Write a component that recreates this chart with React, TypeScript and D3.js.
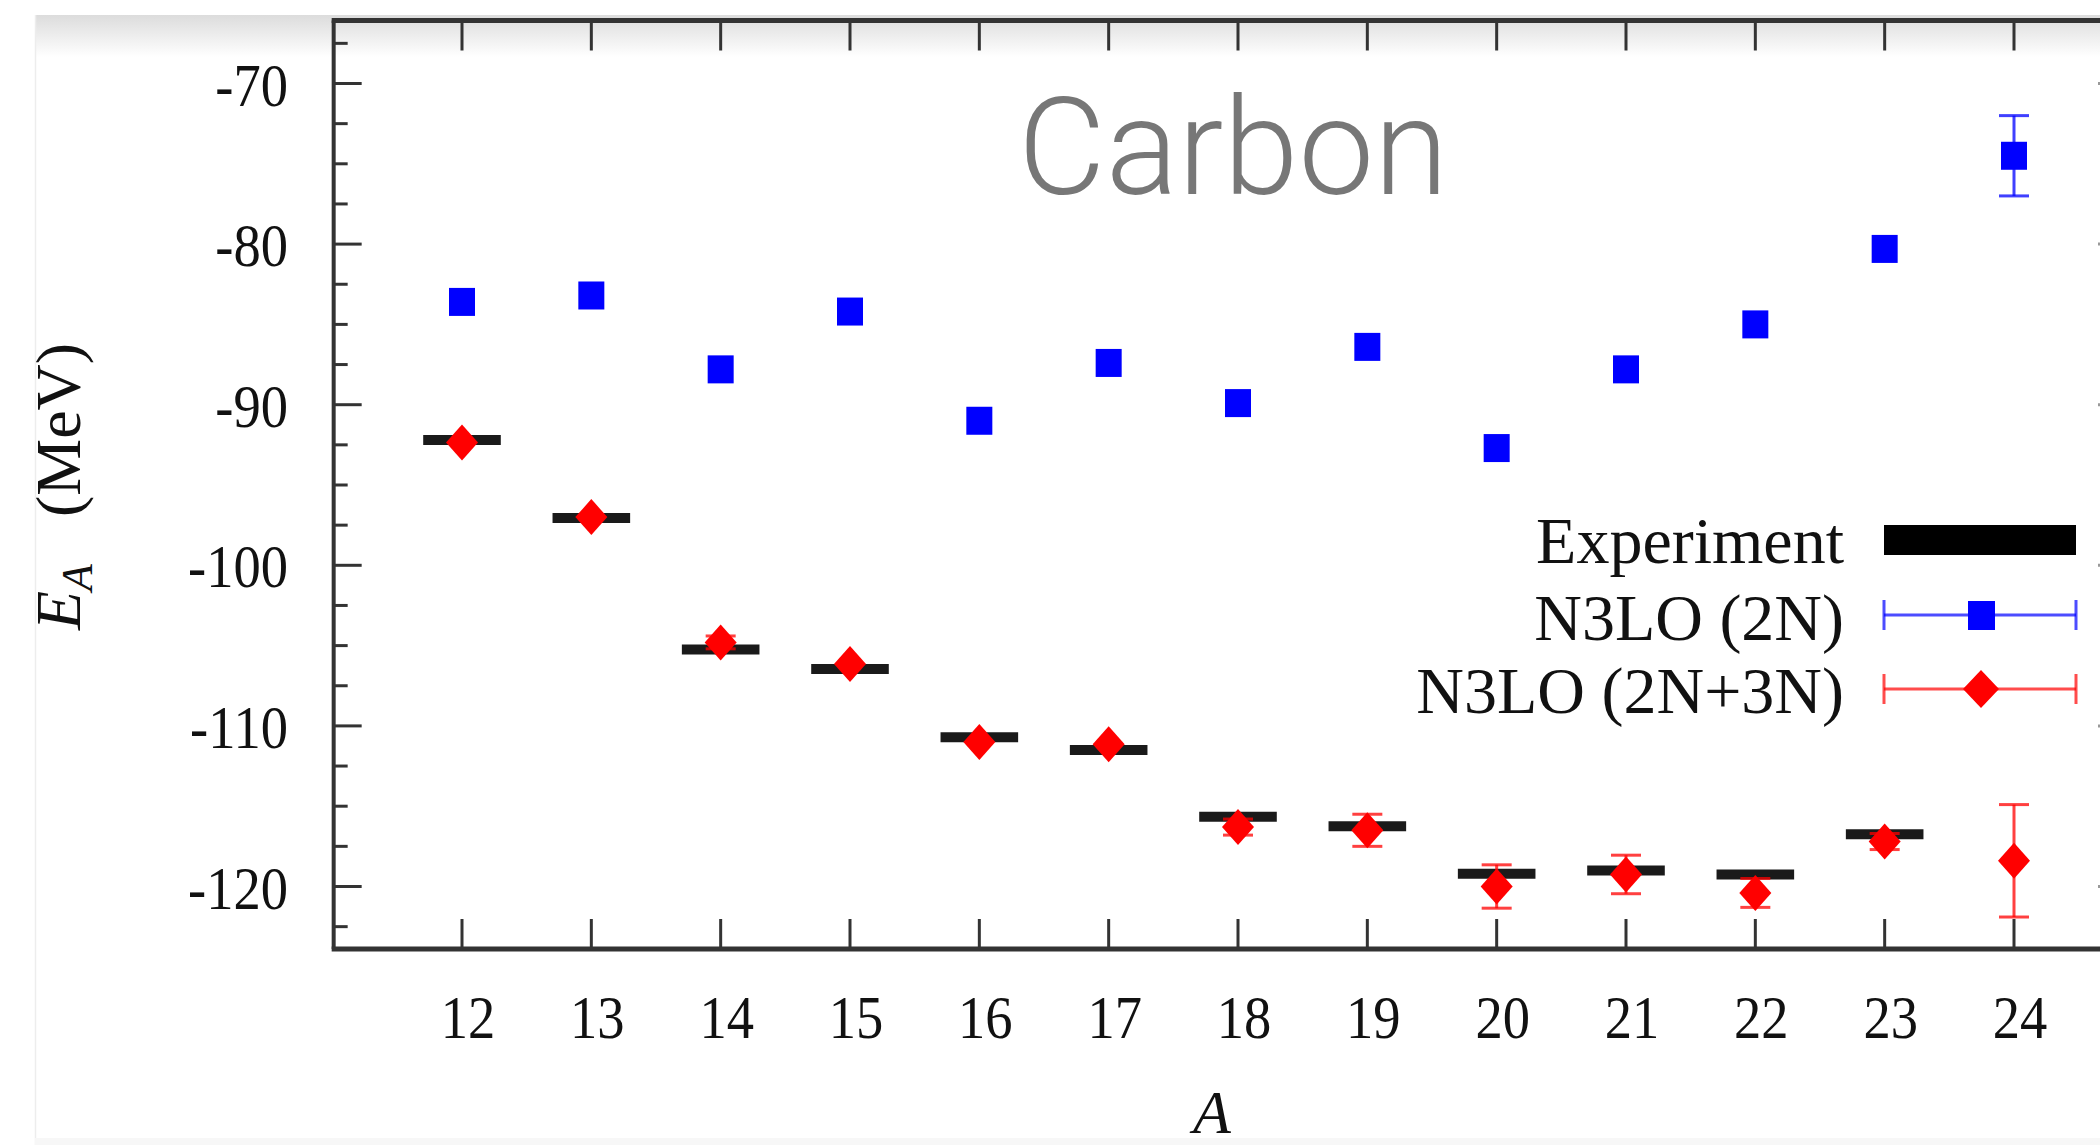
import React from "react";
import * as d3 from "d3";

// ---- data ----
const massNumbers = [12, 13, 14, 15, 16, 17, 18, 19, 20, 21, 22, 23, 24];
const experiment = [-92.2, -97.05, -105.25, -106.45, -110.7, -111.5, -115.65, -116.25, -119.2, -119.0, -119.25, -116.75, null];
const n3lo2N = [-83.6, -83.2, -87.8, -84.2, -91.0, -87.4, -89.9, -86.4, -92.7, -87.8, -85.0, -80.3, -74.5];
const n3lo2NErr = [0, 0, 0, 0, 0, 0, 0, 0, 0, 0, 0, 0, 2.5];
const n3lo2N3N = [-92.35, -97.0, -104.8, -106.15, -111.0, -111.15, -116.3, -116.5, -120.0, -119.25, -120.4, -117.2, -118.4];
const n3lo2N3NErr = [0, 0, 0.4, 0, 0, 0, 0.5, 1.0, 1.35, 1.2, 0.9, 0.5, 3.5];
const yMajorTicks = [-120, -110, -100, -90, -80, -70];
const legendLabels = ["Experiment", "N3LO (2N)", "N3LO (2N+3N)"];
const titleText = "Carbon";

const W = 2100;
const H = 1145;

export default function App() {
  const x = d3.scaleLinear().domain([12, 24]).range([462, 2014]);
  const y = d3.scaleLinear().domain([-120, -70]).range([886.5, 83.5]);
  const left = x(11) + 1;
  const right = 2126;
  const top = 20.5;
  const bottom = 949;
  const yMinor = d3.range(-122.5, -66, 2.5).filter((v) => !yMajorTicks.includes(v));
  const axisColor = "#333";
  const serif = "'Liberation Serif', 'DejaVu Serif', serif";
  const blue = "#0000ff";
  const red = "#ff0000";
  const capW = 15;
  const sx = 0.88;

  const diamond = (cx: number, cy: number, hw = 16, hh = 18) =>
    `M${cx},${cy - hh}L${cx + hw},${cy}L${cx},${cy + hh}L${cx - hw},${cy}Z`;

  return (
    <svg width={W} height={H} style={{ position: "absolute", left: 0, top: 0, background: "#fff" }}>
      <defs>
        <linearGradient id="topShade" x1="0" y1="0" x2="0" y2="1">
          <stop offset="0" stopColor="#dcdcdc" />
          <stop offset="1" stopColor="#ffffff" />
        </linearGradient>
      </defs>
      <rect x={0} y={0} width={W} height={H} fill="#fff" />
      <rect x={35} y={15} width={W - 35} height={42} fill="url(#topShade)" />
      <line x1={35.5} y1={15} x2={35.5} y2={H} stroke="#ededed" strokeWidth={1.5} />
      <rect x={35} y={1138} width={W - 35} height={7} fill="#f7f7f7" />

      {/* title */}
      <text x={1018} y={194} fontFamily="Roboto, 'Liberation Sans', sans-serif" fontWeight={300} fontSize={135} fill="#777">
        {titleText}
      </text>

      {/* y ticks (left and right) */}
      {yMajorTicks.map((v) => (
        <g key={"ym" + v}>
          <line x1={left} x2={left + 28} y1={y(v)} y2={y(v)} stroke={axisColor} strokeWidth={3} />
          <line x1={right} x2={right - 28} y1={y(v)} y2={y(v)} stroke="#999" strokeWidth={3} />
          <g transform={`translate(288,${y(v) + 22})`}>
            <text transform={`scale(${sx},1)`} textAnchor="end" fontFamily={serif} fontSize={62} fill="#111">
              {v}
            </text>
          </g>
        </g>
      ))}
      {yMinor.map((v) => (
        <g key={"yn" + v}>
          <line x1={left} x2={left + 14} y1={y(v)} y2={y(v)} stroke={axisColor} strokeWidth={3} />
          <line x1={right} x2={right - 14} y1={y(v)} y2={y(v)} stroke="#999" strokeWidth={3} />
        </g>
      ))}

      {/* x ticks (bottom and top) */}
      {massNumbers.map((a) => (
        <g key={"xt" + a}>
          <line x1={x(a)} x2={x(a)} y1={bottom} y2={bottom - 30} stroke={axisColor} strokeWidth={3} />
          <line x1={x(a)} x2={x(a)} y1={top} y2={top + 30} stroke={axisColor} strokeWidth={3} />
          <g transform={`translate(${x(a) + 6},1038)`}>
            <text transform={`scale(${sx},1)`} textAnchor="middle" fontFamily={serif} fontSize={62} fill="#111">
              {a}
            </text>
          </g>
        </g>
      ))}

      {/* frame */}
      <line x1={left} x2={left} y1={top} y2={bottom} stroke={axisColor} strokeWidth={4} />
      <line x1={left - 2} x2={W} y1={top} y2={top} stroke={axisColor} strokeWidth={5} />
      <line x1={left - 2} x2={W} y1={bottom} y2={bottom} stroke={axisColor} strokeWidth={5} />

      {/* axis labels */}
      <g transform={`translate(80,630) rotate(-90)`}>
        <text x={0} y={0} fontFamily={serif} fontSize={64} fill="#111">
          <tspan fontStyle="italic">E</tspan>
          <tspan fontStyle="italic" fontSize={44} dy={12}>A</tspan>
          <tspan x={113} dy={-12}>(MeV)</tspan>
        </text>
      </g>
      <text x={1212} y={1133} textAnchor="middle" fontFamily={serif} fontStyle="italic" fontSize={62} fill="#111">
        A
      </text>

      {/* experiment bars */}
      {massNumbers.map((a, i) =>
        experiment[i] == null ? null : (
          <line key={"ex" + a} x1={x(a - 0.3)} x2={x(a + 0.3)} y1={y(experiment[i] as number)} y2={y(experiment[i] as number)}
            stroke="#1a1a1a" strokeWidth={10} />
        )
      )}

      {/* N3LO 2N: blue squares */}
      {massNumbers.map((a, i) => (
        <g key={"b" + a}>
          {n3lo2NErr[i] > 0 && (
            <g stroke={blue} strokeWidth={3} strokeOpacity={0.75}>
              <line x1={x(a)} x2={x(a)} y1={y(n3lo2N[i] - n3lo2NErr[i])} y2={y(n3lo2N[i] + n3lo2NErr[i])} />
              <line x1={x(a) - capW} x2={x(a) + capW} y1={y(n3lo2N[i] - n3lo2NErr[i])} y2={y(n3lo2N[i] - n3lo2NErr[i])} />
              <line x1={x(a) - capW} x2={x(a) + capW} y1={y(n3lo2N[i] + n3lo2NErr[i])} y2={y(n3lo2N[i] + n3lo2NErr[i])} />
            </g>
          )}
          <rect x={x(a) - 13} y={y(n3lo2N[i]) - 14} width={26} height={28} fill={blue} />
        </g>
      ))}

      {/* N3LO 2N+3N: red diamonds */}
      {massNumbers.map((a, i) => (
        <g key={"r" + a}>
          {n3lo2N3NErr[i] > 0 && (
            <g stroke={red} strokeWidth={3} strokeOpacity={0.75}>
              <line x1={x(a)} x2={x(a)} y1={y(n3lo2N3N[i] - n3lo2N3NErr[i])} y2={y(n3lo2N3N[i] + n3lo2N3NErr[i])} />
              <line x1={x(a) - capW} x2={x(a) + capW} y1={y(n3lo2N3N[i] - n3lo2N3NErr[i])} y2={y(n3lo2N3N[i] - n3lo2N3NErr[i])} />
              <line x1={x(a) - capW} x2={x(a) + capW} y1={y(n3lo2N3N[i] + n3lo2N3NErr[i])} y2={y(n3lo2N3N[i] + n3lo2N3NErr[i])} />
            </g>
          )}
          <path d={diamond(x(a), y(n3lo2N3N[i]))} fill={red} />
        </g>
      ))}

      {/* legend */}
      <g fontFamily={serif} fontSize={66} fill="#111" textAnchor="end">
        <text x={1844} y={563}>{legendLabels[0]}</text>
        <text x={1844} y={640}>{legendLabels[1]}</text>
        <text x={1844} y={713}>{legendLabels[2]}</text>
      </g>
      <rect x={1884} y={525} width={192} height={30} fill="#000" />
      <g stroke={blue} strokeWidth={3} strokeOpacity={0.7}>
        <line x1={1884} x2={2076} y1={615} y2={615} />
        <line x1={1884} x2={1884} y1={600} y2={630} />
        <line x1={2076} x2={2076} y1={600} y2={630} />
      </g>
      <rect x={1968} y={601} width={27} height={29} fill={blue} />
      <g stroke={red} strokeWidth={3} strokeOpacity={0.7}>
        <line x1={1884} x2={2076} y1={689} y2={689} />
        <line x1={1884} x2={1884} y1={674} y2={704} />
        <line x1={2076} x2={2076} y1={674} y2={704} />
      </g>
      <path d={diamond(1981, 689, 18, 19)} fill={red} />
    </svg>
  );
}
